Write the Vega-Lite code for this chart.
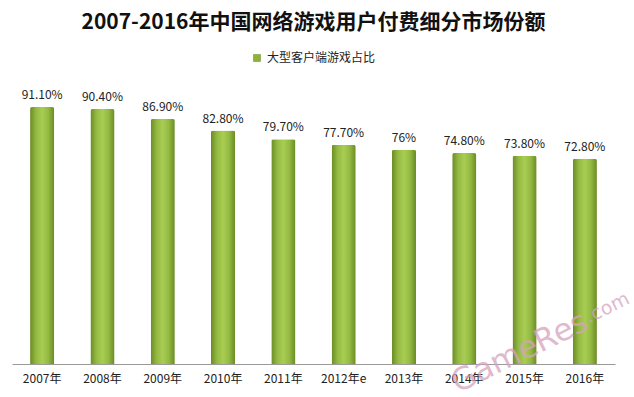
{
  "$schema": "https://vega.github.io/schema/vega-lite/v6.json",
  "width": 603,
  "height": 282,
  "autosize": {"type": "none"},
  "padding": {"left": 12, "top": 82, "right": 19, "bottom": 33},
  "background": "white",
  "title": {
    "text": "2007-2016年中国网络游戏用户付费细分市场份额",
    "font": "Noto Sans CJK SC",
    "fontSize": 21,
    "fontWeight": "bold",
    "color": "#111111",
    "anchor": "middle",
    "frame": "group",
    "offset": 19
  },
  "config": {"view": {"stroke": null}},
  "data": {
    "values": [
      {"year": "2007年", "share": 91.1, "label": "91.10%"},
      {"year": "2008年", "share": 90.4, "label": "90.40%"},
      {"year": "2009年", "share": 86.9, "label": "86.90%"},
      {"year": "2010年", "share": 82.8, "label": "82.80%"},
      {"year": "2011年", "share": 79.7, "label": "79.70%"},
      {"year": "2012年e", "share": 77.7, "label": "77.70%"},
      {"year": "2013年", "share": 76, "label": "76%"},
      {"year": "2014年", "share": 74.8, "label": "74.80%"},
      {"year": "2015年", "share": 73.8, "label": "73.80%"},
      {"year": "2016年", "share": 72.8, "label": "72.80%"}
    ]
  },
  "encoding": {
    "x": {
      "field": "year",
      "type": "nominal",
      "sort": null,
      "scale": {"paddingInner": 0.6, "paddingOuter": 0.3},
      "axis": {
        "title": null,
        "labelAngle": 0,
        "ticks": false,
        "domainColor": "#9a9a9a",
        "labelFont": "Noto Sans CJK SC",
        "labelFontSize": 12,
        "labelColor": "#222222",
        "labelPadding": 9
      }
    },
    "y": {
      "field": "share",
      "type": "quantitative",
      "scale": {"domain": [0, 100]},
      "axis": null
    }
  },
  "layer": [
    {
      "mark": {
        "type": "bar",
        "cornerRadiusTopLeft": 2,
        "cornerRadiusTopRight": 2,
        "fill": {
          "gradient": "linear",
          "x1": 0, "y1": 0, "x2": 1, "y2": 0,
          "stops": [
            {"offset": 0, "color": "#6b8b25"},
            {"offset": 0.25, "color": "#94ba42"},
            {"offset": 0.5, "color": "#a9cd53"},
            {"offset": 0.75, "color": "#94ba42"},
            {"offset": 1, "color": "#6b8b25"}
          ]
        }
      }
    },
    {
      "mark": {"type": "square", "opacity": 0, "size": 1},
      "encoding": {
        "color": {
          "datum": "大型客户端游戏占比",
          "scale": {"range": ["#8db23c"]},
          "legend": {
            "title": null,
            "orient": "none",
            "legendX": 239,
            "legendY": -30,
            "symbolType": "square",
            "symbolSize": 50,
            "symbolOpacity": 1,
            "symbolStrokeColor": "#6b8b25",
            "symbolStrokeWidth": 0.5,
            "labelFont": "Noto Sans CJK SC",
            "labelFontSize": 12,
            "labelColor": "#222222",
            "labelOffset": 4
          }
        }
      }
    },
    {
      "mark": {
        "type": "text",
        "dy": -5,
        "baseline": "bottom",
        "font": "Noto Sans CJK SC",
        "fontSize": 12,
        "color": "#222222"
      },
      "encoding": {"text": {"field": "label"}}
    },
    {
      "data": {"values": [{"year": "2015年", "share": 4, "text": "GameRes"}]},
      "mark": {
        "type": "text",
        "angle": 334,
        "dx": -4,
        "dy": -2,
        "font": "DejaVu Sans",
        "fontSize": 31,
        "color": "#d6a2bd",
        "opacity": 0.75
      },
      "encoding": {"text": {"field": "text"}}
    },
    {
      "data": {"values": [{"year": "2016年", "share": 20, "text": ".com"}]},
      "mark": {
        "type": "text",
        "angle": 334,
        "dx": 20,
        "dy": 10,
        "font": "DejaVu Sans",
        "fontSize": 19,
        "color": "#d6a2bd",
        "opacity": 0.75
      },
      "encoding": {"text": {"field": "text"}}
    }
  ]
}
